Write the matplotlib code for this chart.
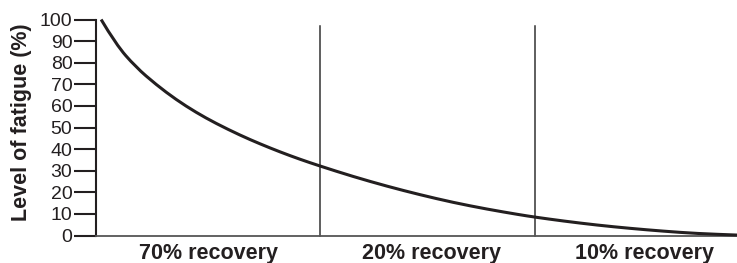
import matplotlib.pyplot as plt
from matplotlib.path import Path
from matplotlib.patches import PathPatch

# fatigue curve (x: time in % of the axis)
time_pct = [0.8, 3.1, 6.2, 9.4, 12.5, 15.6, 18.7, 22.5, 25.6, 28.7, 31.8, 34.9,
            40.1, 45.4, 50.5, 55.7, 61.0, 66.1, 68.5, 72.9, 78.2, 83.3, 88.5,
            93.8, 100]
fatigue = [100, 88.5, 78.0, 69.8, 62.9, 57.0, 51.9, 46.4, 42.4, 38.7, 35.3, 32.2,
           27.3, 22.8, 18.9, 15.3, 12.2, 9.6, 8.5, 6.7, 4.8, 3.3, 2.0,
           0.9, 0.2]

boundaries = [34.9, 68.5]
boundary_top = 97.2
phases = ["70% recovery", "20% recovery", "10% recovery"]
phase_x = [17.5, 52.3, 85.6]
yticks = list(range(0, 101, 10))

ink = "#231f20"
plt.rcParams["font.family"] = ["Liberation Sans", "DejaVu Sans"]

fig = plt.figure(figsize=(7.37, 2.63), dpi=100)
ax = fig.add_axes([96 / 737, 27.5 / 263, 641 / 737, 216 / 263])

# smooth drawing of the read points (quadratic bezier through midpoints)
pts = list(zip(time_pct, fatigue))
verts = [pts[0]]
codes = [Path.MOVETO]
for i in range(1, len(pts) - 1):
    mid = ((pts[i][0] + pts[i + 1][0]) / 2, (pts[i][1] + pts[i + 1][1]) / 2)
    verts += [pts[i], mid]
    codes += [Path.CURVE3, Path.CURVE3]
verts.append(pts[-1])
codes.append(Path.LINETO)
ax.add_patch(PathPatch(Path(verts, codes), fill=False, edgecolor=ink, lw=2.2,
                       clip_on=False, zorder=3, capstyle="butt"))

for b in boundaries:
    ax.plot([b, b], [0, boundary_top], color="#333333", lw=1.1, clip_on=False)

ax.set_xlim(0, 100)
ax.set_ylim(0, 100)
ax.set_xticks([])
ax.set_yticks(yticks)
ax.tick_params(axis="y", length=15.5, width=1.5, pad=1.5, labelsize=14,
               color=ink, labelcolor=ink)
for s in ["top", "right"]:
    ax.spines[s].set_visible(False)
ax.spines["left"].set_linewidth(1.5)
ax.spines["left"].set_color(ink)
ax.spines["bottom"].set_linewidth(1.3)
ax.spines["bottom"].set_color("#555555")

trans = ax.get_xaxis_transform()
for x, name in zip(phase_x, phases):
    ax.text(x, -0.108, name, transform=trans, ha="center", va="baseline",
            fontsize=15.5, fontweight="bold", color=ink)

fig.text(22 / 737, 1 - 122.5 / 263, "Level of fatigue (%)", rotation=90,
         ha="center", va="center", fontsize=15.5, fontweight="bold", color=ink)

fig.savefig("out.png", dpi=100)
